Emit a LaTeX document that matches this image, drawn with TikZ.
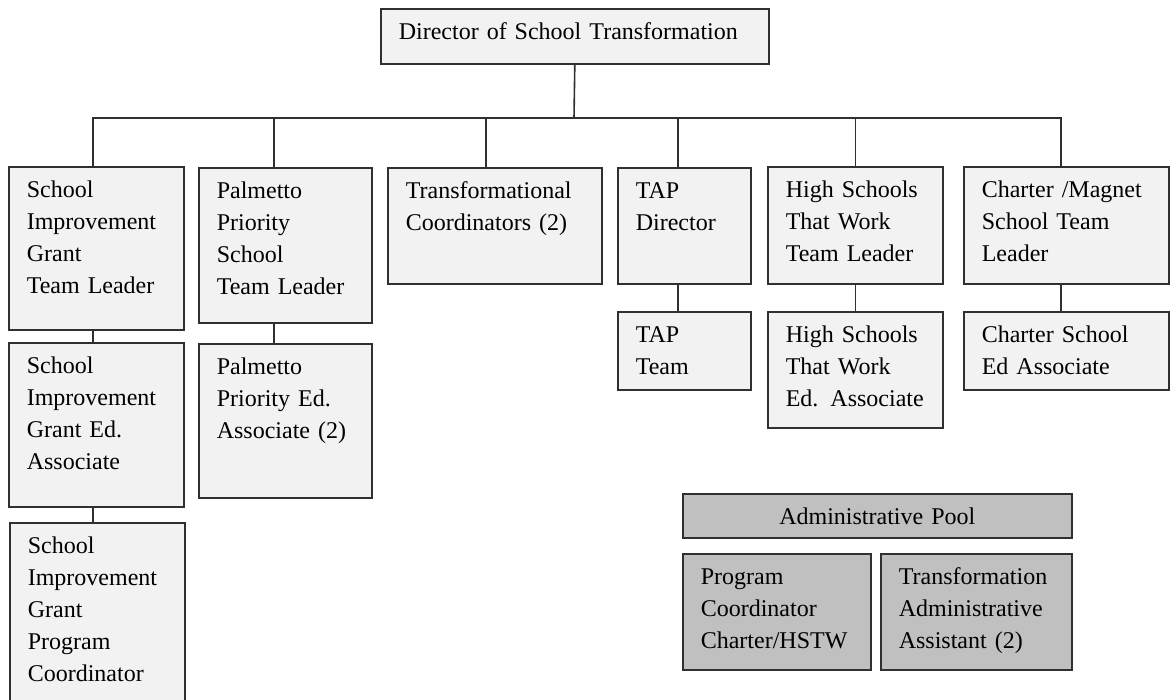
\documentclass[tikz,border=0pt]{standalone}
\usepackage{fontspec}
\setmainfont{Liberation Serif}
\usepackage{xcolor}
\usepackage{tikz}

\definecolor{pale}{HTML}{F2F2F2}
\definecolor{poolgray}{HTML}{C0C0C0}
\definecolor{edge}{HTML}{303030}

\begin{document}
\begin{tikzpicture}[x=1pt, y=-1pt,
    every node/.style={font=\fontsize{24}{32}\selectfont},
    post/.style n args={2}{draw=edge, fill=pale, line width=1.6pt, anchor=north west,
      inner xsep=18pt, inner ysep=8pt, align=left, text width=#1, text height=22.4pt, text depth=#2},
    wire/.style={draw=edge, line width=1.6pt}]
            \useasboundingbox (0,0) rectangle (1170,700);

            % Director at the top
            \node[post={352pt}{16.6pt}] (dir) at (380,8) {Director of School Transformation};
            \coordinate (bus) at (574,118);

            % First row of team leaders
            \node[post={139pt}{124.6pt}] (sigl) at (8,166) {School\\Improvement\\Grant\\Team Leader};
            \node[post={137pt}{116.6pt}] (ppsl) at (198,167) {Palmetto\\Priority\\School\\Team Leader};
            \node[post={178pt}{77.6pt}] (trans) at (387,167) {Transformational\\Coordinators (2)};
            \node[post={97pt}{77.6pt}] (tapd) at (617,167) {TAP\\Director};
            \node[post={139pt}{78.6pt}] (hstw) at (767,166) {High Schools\\That Work\\Team Leader};
            \node[post={169pt}{78.6pt}] (chl) at (963,166) {Charter /Magnet\\School Team\\Leader};

            % Second row
            \node[post={139pt}{125.6pt}] (sige) at (8,342) {School\\Improvement\\Grant Ed.\\Associate};
            \node[post={137pt}{115.6pt}] (ppse) at (198,343) {Palmetto\\Priority Ed.\\Associate (2)};
            \node[post={97pt}{39.6pt}] (tapt) at (617,311) {TAP\\Team};
            \node[post={139pt}{77.6pt}] (hstwe) at (767,311) {High Schools\\That Work\\Ed. Associate};
            \node[post={169pt}{39.6pt}] (che) at (963,311) {Charter School\\Ed Associate};

            % Third level under the grant
            \node[post={139pt}{151.6pt}] (sigp) at (9,522) {School\\Improvement\\Grant\\Program\\Coordinator};

            % Administrative pool
            \node[post={353pt}{5.6pt}, fill=poolgray, align=center] (pool) at (682,493) {Administrative Pool};
            \node[post={152pt}{77.6pt}, fill=poolgray] (progc) at (682,553) {Program\\Coordinator\\Charter/HSTW};
            \node[post={155pt}{77.6pt}, fill=poolgray] (taa) at (880,553) {Transformation\\Administrative\\Assistant (2)};

            % Director down to the bus
            \draw[wire] (dir.south) -- (bus);
            \draw[wire] ([xshift=-3.5pt]sigl.north) |- (bus);
            \draw[wire] ([xshift=-11.5pt]ppsl.north) |- (bus);
            \draw[wire] ([xshift=-9pt]trans.north) |- (bus);
            \draw[wire] ([xshift=-6.5pt]tapd.north) |- (bus);
            \draw[wire] (hstw.north) |- (bus);
            \draw[wire] ([xshift=-5.5pt]chl.north) |- (bus);

            % Leaders down to their associates
            \draw[wire] ([xshift=-3.5pt]sigl.south) -- ([xshift=-3.5pt]sigl.south |- sige.north);
            \draw[wire] ([xshift=-3.5pt]sige.south) -- ([xshift=-3.5pt]sige.south |- sigp.north);
            \draw[wire] ([xshift=-11.5pt]ppsl.south) -- ([xshift=-11.5pt]ppsl.south |- ppse.north);
            \draw[wire] ([xshift=-6.5pt]tapd.south) -- ([xshift=-6.5pt]tapd.south |- tapt.north);
            \draw[wire] (hstw.south) -- (hstw.south |- hstwe.north);
            \draw[wire] ([xshift=-5.5pt]chl.south) -- ([xshift=-5.5pt]chl.south |- che.north);
        \end{tikzpicture}
\end{document}
